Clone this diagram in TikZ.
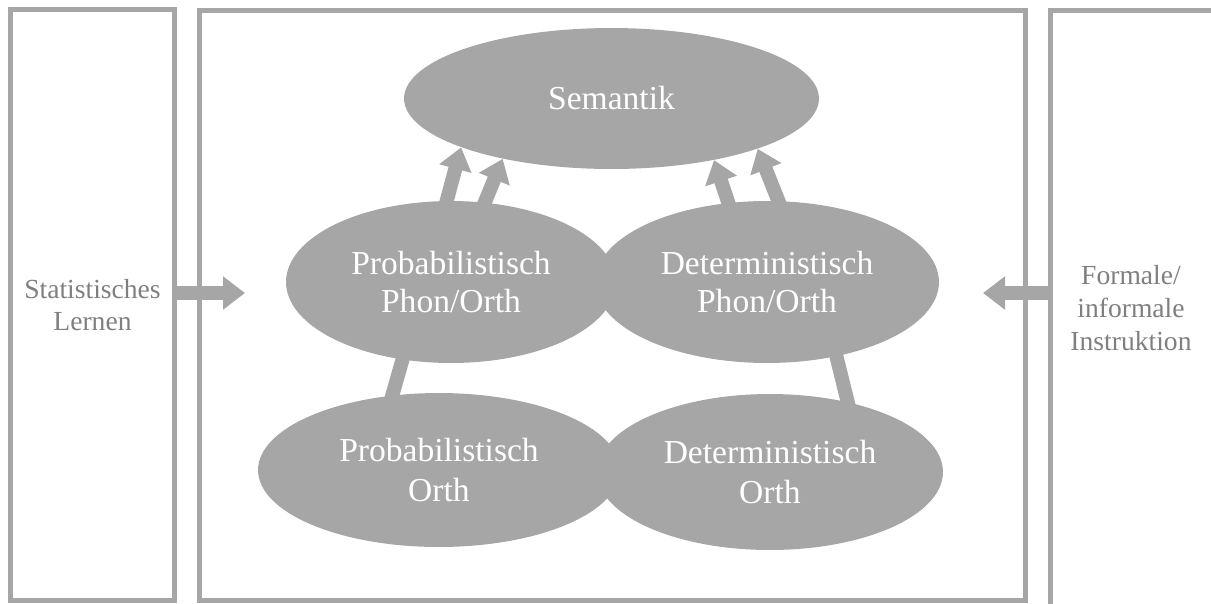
\documentclass[tikz,border=0pt]{standalone}
\usepackage{fontspec}
\setmainfont{Liberation Serif}
\usetikzlibrary{arrows.meta,backgrounds,shapes.geometric}
\definecolor{boxgray}{HTML}{A6A6A6}
\definecolor{textgray}{HTML}{7F7F7F}

\begin{document}
\begin{tikzpicture}[x=0.02cm,y=-0.02cm,
    rahmen/.style={draw=boxgray,line width=0.1cm,inner sep=0pt},
    ebene/.style={ellipse,fill=boxgray,text=white,inner sep=0pt,align=center,
      font=\fontsize{19.1}{21.6}\selectfont},
    seite/.style={text=textgray,align=center,font=\fontsize{15.7}{18.7}\selectfont},
    pfeil/.style={boxgray,line width=0.28cm,-{Triangle[width=0.64cm,length=0.44cm]}},
    balken/.style={boxgray,line width=0.28cm}]
  \clip (0,0) rectangle (1211,603);
  % three frames
  \node[rahmen,minimum width=3.28cm,minimum height=11.84cm,seite] (lernbox) at (92.5,305) {Statistisches\\Lernen};
  \node[rahmen,minimum width=16.53cm,minimum height=11.82cm] (mitte) at (612.25,305.5) {};
  \node[rahmen,minimum width=5.99cm,minimum height=11.94cm] (instrbox) at (1200.25,309) {};
  \node[seite] (instrtext) at (1131,308) {Formale/\\informale\\Instruktion};
  % ellipses
  \node[ebene,minimum width=8.3cm,minimum height=2.82cm] (sem) at (611.5,98.5) {Semantik};
  \node[ebene,minimum width=6.6cm,minimum height=3.24cm] (probpo) at (451,282) {Probabilistisch\\Phon/Orth};
  \node[ebene,minimum width=6.88cm,minimum height=3.24cm] (detpo) at (767,282) {Deterministisch\\Phon/Orth};
  \node[ebene,minimum width=7.24cm,minimum height=3.08cm] (probo) at (439,470) {Probabilistisch\\[1pt]Orth};
  \node[ebene,minimum width=6.92cm,minimum height=3.12cm] (deto) at (770,472) {Deterministisch\\[1pt]Orth};
  \coordinate (lernziel) at (245,293);
  \coordinate (instrziel) at (983,293);
  \draw[pfeil] (lernziel -| lernbox.east) -- (lernziel);
  \draw[pfeil] (instrziel -| instrbox.west) -- (instrziel);
  \begin{scope}[on background layer]
    \foreach \quelle/\aus/\ein in {probpo/93/198, probpo/67/209, detpo/116/329, detpo/82/341}
      \draw[pfeil,shorten <=-6pt] (\quelle.\aus) -- (sem.\ein);
    \draw[balken,shorten <=-6pt,shorten >=-6pt] (probpo.238) -- (probo.122);
    \draw[balken,shorten <=-6pt,shorten >=-6pt] (detpo.313) -- (deto.42);
  \end{scope}
\end{tikzpicture}
\end{document}
